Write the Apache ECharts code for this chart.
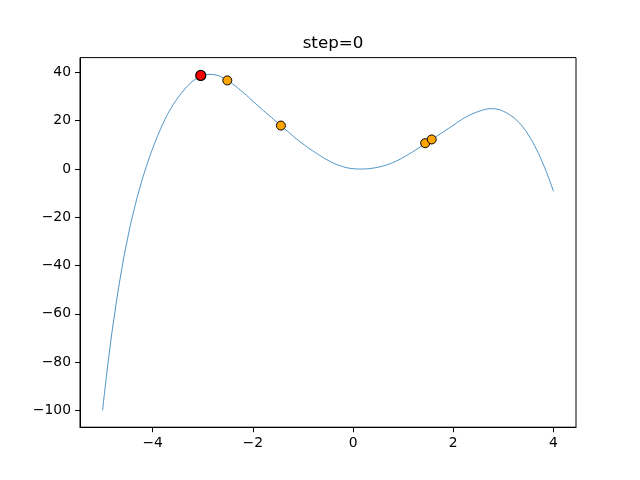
<!DOCTYPE html>
<html>
<head>
<meta charset="utf-8">
<script src="https://cdn.jsdelivr.net/npm/echarts@6/dist/echarts.min.js"></script>
<style>html,body{margin:0;padding:0;background:#fff}#c{width:640px;height:480px}</style>
</head>
<body>
<div id="c"></div>
<script>
// Curve samples (x step 0.125)
var curveX = [-5.0,-4.875,-4.75,-4.625,-4.5,-4.375,-4.25,-4.125,-4.0,-3.875,-3.75,-3.625,-3.5,-3.375,-3.25,-3.125,-3.0,-2.875,-2.75,-2.625,-2.5,-2.375,-2.25,-2.125,-2.0,-1.875,-1.75,-1.625,-1.5,-1.375,-1.25,-1.125,-1.0,-0.875,-0.75,-0.625,-0.5,-0.375,-0.25,-0.125,0.0,0.125,0.25,0.375,0.5,0.625,0.75,0.875,1.0,1.125,1.25,1.375,1.5,1.625,1.75,1.875,2.0,2.125,2.25,2.375,2.5,2.625,2.75,2.875,3.0,3.125,3.25,3.375,3.5,3.625,3.75,3.875,4.0];
var curveY = [-100,-77.8,-58.75,-42.5,-28.75,-17.2,-7.4,1.05,8.5,15.0,20.7,25.5,29.4,32.7,35.5,37.5,38.8,39.2,39.0,38.1,36.6,34.8,32.7,30.5,28.1,25.8,23.5,21.3,19.0,16.8,14.6,12.4,10.4,8.5,6.8,5.1,3.6,2.3,1.3,0.55,0.15,0.0,0.05,0.3,0.75,1.4,2.3,3.4,4.8,6.3,7.9,9.6,11.3,13.0,14.7,16.4,18.1,19.9,21.5,22.8,23.8,24.6,25.0,24.8,23.9,22.5,20.5,17.75,14.1,9.6,4.2,-2.05,-9.2];
// particles (orange) and best particle (red)
var particleX = [-2.51,-1.44,1.44,1.57];
var particleY = [36.7,18.0,10.7,12.25];
var bestX = [-3.04];
var bestY = [38.76];
var xTicks = [-4,-2,0,2,4];
var yTicks = [-100,-80,-60,-40,-20,0,20,40];
var titleText = 'step=0';

function pairs(xs, ys){ return xs.map(function(x,i){ return [x, ys[i]]; }); }
function fmt(v){ return String(v).replace('-', '\u2212'); }

var font = 'DejaVu Sans';
var chart = echarts.init(document.getElementById('c'), null, {renderer:'canvas'});
chart.setOption({
  animation: false,
  backgroundColor: '#ffffff',
  title: {
    text: titleText, left: 328, top: 30, textAlign: 'center',
    textStyle: {fontFamily: font, fontSize: 16.7, fontWeight: 'normal', color: '#000'}
  },
  grid: {left: 80, right: 64, top: 57.6, bottom: 52.8, show: true, borderColor: '#000', borderWidth: 1, backgroundColor: 'transparent'},
  xAxis: {
    type: 'value', min: -5.45, max: 4.45,
    splitLine: {show: false},
    axisLine: {show: true, onZero: false, lineStyle: {color: '#000', width: 1}},
    axisTick: {show: true, length: 5, lineStyle: {color: '#000'}, customValues: xTicks},
    axisLabel: {fontFamily: font, fontSize: 13.9, color: '#000', margin: 9, customValues: xTicks, formatter: fmt}
  },
  yAxis: {
    type: 'value', min: -106.96, max: 46.16,
    splitLine: {show: false},
    axisLine: {show: true, onZero: false, lineStyle: {color: '#000', width: 1}},
    axisTick: {show: true, length: 5, lineStyle: {color: '#000'}, customValues: yTicks},
    axisLabel: {fontFamily: font, fontSize: 13.9, color: '#000', margin: 9, customValues: yTicks, formatter: fmt}
  },
  series: [
    {type: 'line', data: pairs(curveX, curveY), smooth: true, showSymbol: false,
     lineStyle: {color: '#1f77b4', width: 0.8}, z: 2},
    {type: 'scatter', data: pairs(particleX, particleY), symbolSize: 9,
     itemStyle: {color: '#ffa500', opacity: 1, borderColor: '#000', borderWidth: 1}, z: 3},
    {type: 'scatter', data: pairs(bestX, bestY), symbolSize: 10,
     itemStyle: {color: '#ff0000', opacity: 1, borderColor: '#000', borderWidth: 1.2}, z: 4}
  ]
});
</script>
</body>
</html>
